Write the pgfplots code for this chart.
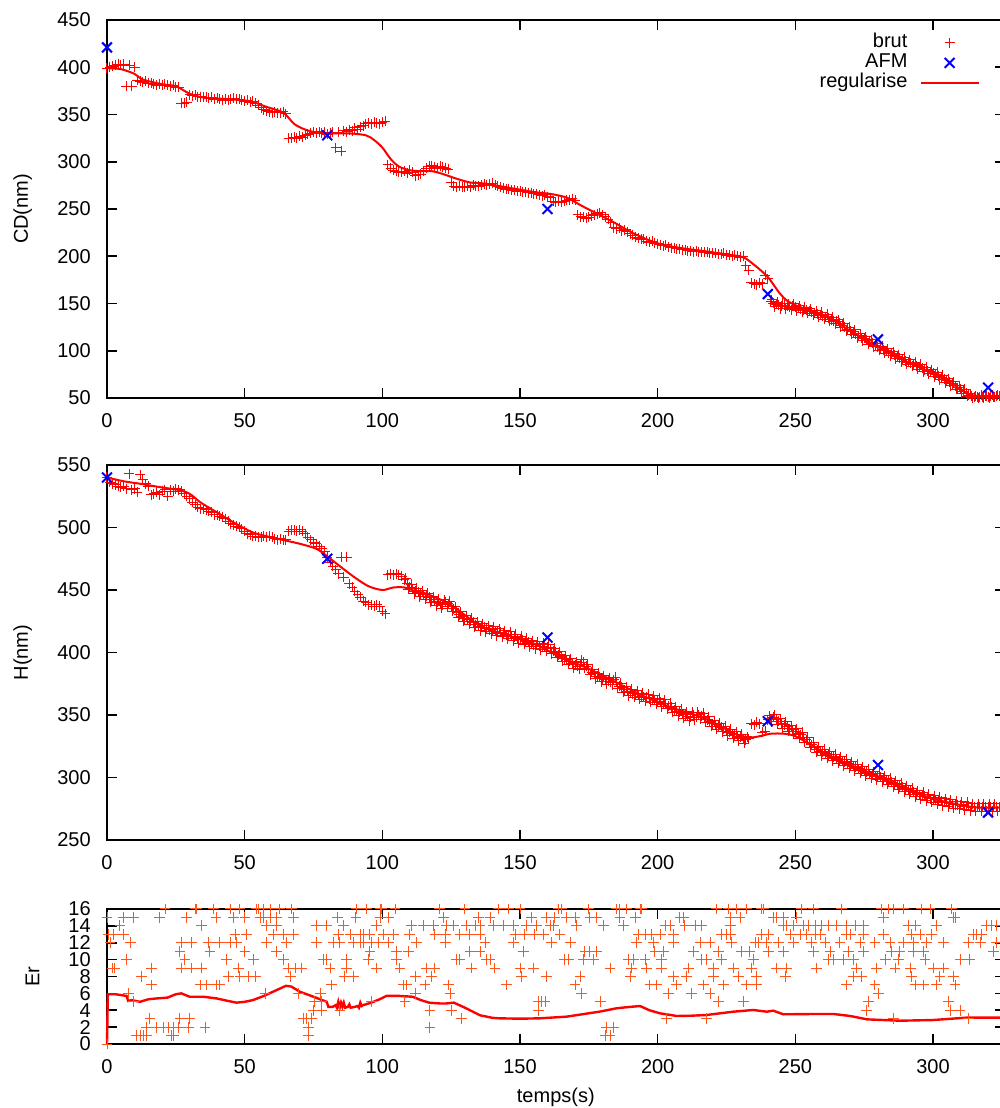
\documentclass[border=0pt]{standalone}
\usepackage{fontspec}
\setmainfont{Liberation Sans}
\usepackage{pgfplots}
\pgfplotsset{compat=1.18}
\definecolor{brutred}{RGB}{255,0,0}
\definecolor{erorange}{RGB}{255,85,25}
\definecolor{afmblue}{RGB}{0,0,255}

\pgfplotsset{
  gp/.style={
    scale only axis, width=448.8pt, xmin=0, xmax=326, clip=false,
    anchor=south west,
    xtick={0,50,...,300},
    axis line style={line width=0.8pt},
    every tick/.style={black, line width=0.8pt},
    major tick length=5pt,
    /pgf/number format/assume math mode=true,
    yticklabel style={xshift=-4.6pt},
    xticklabel style={yshift=-4.0pt},
  },
  brut/.style={only marks, mark=+, mark size=2.5pt, draw=brutred, line width=0.5pt,
    mark options={draw=brutred, solid},
    legend image code/.code={\draw[##1] plot coordinates {(14.5pt,0pt)};}},
  afm/.style={only marks, mark=x, mark size=3.5pt, draw=afmblue, line width=1pt,
    mark options={draw=afmblue, solid},
    legend image code/.code={\draw[##1] plot coordinates {(14.5pt,0pt)};}},
  reg/.style={no marks, smooth, draw=brutred, line width=1pt,
    legend image code/.code={\draw[##1] (0pt,0pt) -- (29pt,0pt);}},
}

\begin{document}
\begin{tikzpicture}[font=\fontsize{10}{12}\selectfont]
\useasboundingbox (0,0) rectangle (500pt,554pt);

% ---- CD ----
\begin{axis}[gp, at={(53.5pt,355pt)}, height=189pt,
  ymin=50, ymax=450, ytick={50,100,...,450},
  ylabel={CD(nm)}, ylabel style={at={(axis description cs:-0.094,0.5)}, anchor=center},
  legend plot pos=right, legend cell align=right,
  legend style={draw=none, fill=none, at={(rel axis cs:0.9726,0.967)}, anchor=north east,
    inner sep=0pt, column sep=5.6pt, row sep=0pt,
    nodes={inner sep=0.5pt, text height=7pt, text depth=2pt}},
]
\addplot[brut] coordinates {
(0,399) (1,400) (2,401) (3,402) (4,403) (5,402) (6,403) (7,380) (8,402) (9,380)
(10,400) (11,386) (12,385) (13,384) (14,385) (15,383) (16,383) (17,382) (18,381) (19,382)
(20,381) (21,382) (22,381) (23,380) (24,381) (25,379) (26,379) (27,362) (28,362) (29,363)
(30,371) (31,370) (32,371) (33,369) (34,369) (35,368) (36,368) (37,367) (38,368) (39,366)
(40,367) (41,366) (42,365) (43,366) (44,365) (45,366) (46,367) (47,366) (48,366) (49,365)
(50,364) (51,365) (52,363) (53,364) (54,362) (55,360) (56,357) (57,355) (58,354) (59,353)
(60,352) (61,353) (62,352) (63,352) (64,353) (65,351) (66,325) (67,325) (68,326) (69,325)
(70,327) (71,326) (72,328) (73,329) (74,330) (75,331) (76,330) (77,332) (78,330) (79,331)
(80,329) (81,330) (82,331) (83,315) (84,331) (85,311) (86,333) (87,332) (88,334) (89,333)
(90,336) (91,334) (92,337) (93,338) (94,340) (95,341) (96,340) (97,342) (98,341) (99,340)
(100,342) (101,343) (102,297) (103,293) (104,291) (105,290) (106,289) (107,289) (108,290) (109,288)
(110,291) (111,289) (112,285) (113,286) (114,287) (115,290) (116,293) (117,295) (118,296) (119,294)
(120,293) (121,295) (122,294) (123,293) (124,292) (125,278) (126,274) (127,273) (128,274) (129,273)
(130,273) (131,274) (132,273) (133,275) (134,274) (135,274) (136,275) (137,276) (138,275) (139,276)
(140,277) (141,275) (142,274) (143,273) (144,272) (145,271) (146,271) (147,270) (148,270) (149,269)
(150,269) (151,268) (152,268) (153,267) (154,267) (155,266) (156,266) (157,265) (158,264) (159,265)
(160,263) (161,262) (162,258) (163,257) (164,258) (165,257) (166,258) (167,259) (168,260) (169,261)
(170,259) (171,244) (172,242) (173,241) (174,240) (175,241) (176,243) (177,244) (178,245) (179,246)
(180,244) (181,242) (182,239) (183,236) (184,230) (185,229) (186,230) (187,227) (188,228) (189,226)
(190,224) (191,222) (192,220) (193,219) (194,218) (195,218) (196,216) (197,215) (198,216) (199,214)
(200,213) (201,212) (202,211) (203,212) (204,210) (205,209) (206,209) (207,208) (208,208) (209,207)
(210,207) (211,206) (212,206) (213,205) (214,206) (215,205) (216,205) (217,204) (218,204) (219,203)
(220,203) (221,203) (222,202) (223,202) (224,203) (225,201) (226,201) (227,200) (228,201) (229,200)
(230,199) (231,200) (232,190) (233,185) (234,172) (235,171) (236,170) (237,172) (238,171) (239,180)
(240,176) (241,152) (242,150) (243,149) (244,148) (245,147) (246,148) (247,147) (248,146) (249,147)
(250,146) (251,145) (252,144) (253,143) (254,143) (255,142) (256,141) (257,140) (258,139) (259,138)
(260,137) (261,136) (262,135) (263,133) (264,132) (265,131) (266,129) (267,127) (268,125) (269,123)
(270,121) (271,120) (272,118) (273,116) (274,114) (275,113) (276,111) (277,109) (278,108) (279,106)
(280,104) (281,103) (282,101) (283,100) (284,98) (285,97) (286,95) (287,94) (288,92) (289,91)
(290,89) (291,88) (292,87) (293,86) (294,84) (295,83) (296,82) (297,80) (298,79) (299,78)
(300,76) (301,75) (302,73) (303,72) (304,70) (305,68) (306,67) (307,65) (308,63) (309,61)
(310,59) (311,57) (312,55) (313,53) (314,52) (315,51) (316,51) (317,51) (318,51) (319,52)
(320,51) (321,52) (322,51) (323,52) (324,52)
};
\addlegendentry{brut}
\addplot[brut, forget plot] coordinates {
(241.5,154) (242.5,146.5) (243.5,151.5) (244.5,144.5) (245.5,150.5) (246.5,144.5) (247.5,149.5) (248.5,143.5) (249.5,149.5)
(250.5,142.5) (251.5,147.5) (252.5,140.5) (253.5,146) (254.5,139.5) (255.5,144.5) (256.5,137.5) (257.5,142.5) (258.5,135.5) (259.5,140.5)
(260.5,133.5) (261.5,138.5) (262.5,131) (263.5,135.5) (264.5,128.5) (265.5,133) (266.5,125) (267.5,129) (268.5,121) (269.5,125)
(270.5,117.5) (271.5,122) (272.5,114) (273.5,118) (274.5,110.5) (275.5,115) (276.5,107) (277.5,111.5) (278.5,104) (279.5,108)
(280.5,100.5) (281.5,105) (282.5,97.5) (283.5,102) (284.5,94.5) (285.5,99) (286.5,91.5) (287.5,96) (288.5,88.5) (289.5,93)
(290.5,85.5) (291.5,90.5) (292.5,83.5) (293.5,88) (294.5,80.5) (295.5,85.5) (296.5,78) (297.5,82.5) (298.5,75.5) (299.5,80)
(300.5,72.5) (301.5,77) (302.5,69.5) (303.5,74) (304.5,66) (305.5,70.5) (306.5,63) (307.5,67) (308.5,59) (309.5,63)
(310.5,55) (311.5,59) (312.5,52) (313.5,54.5) (314.5,50) (315.5,52) (316.5,50) (317.5,53) (318.5,50) (319.5,52)
(320.5,50) (321.5,53) (322.5,51) (323.5,53)
};
\addplot[afm] coordinates {(0,421) (80,328) (160,250) (240,160) (280,112) (320,61)};
\addlegendentry{AFM}
\addplot[reg] coordinates {
(0,399) (5,398) (10,393) (13,387) (20,382) (25,380) (30,372) (35,368) (45,366) (52,364)
(58,358) (64,352) (68,340) (72,334) (76,331) (80,330) (88,330) (94,328) (97,323) (100,315)
(103,303) (106,295) (110,291) (114,290) (118,290) (122,287) (127,282) (132,278) (137,277) (145,273)
(155,268) (161,266) (167,262) (172,254) (178,245) (184,236) (190,226) (196,218) (202,212) (210,208)
(218,205) (225,202) (231,199) (235,191) (240,178) (244,162) (247,153) (251,147) (256,142) (262,135)
(270,121) (280,104) (290,89) (300,76) (308,63) (313,54) (317,52) (324,52)
};
\addlegendentry{regularise}
\end{axis}

% ---- H ----
\begin{axis}[gp, at={(53.5pt,134pt)}, height=187.5pt,
  ymin=250, ymax=550, ytick={250,300,...,550},
  ylabel={H(nm)}, ylabel style={at={(axis description cs:-0.094,0.5)}, anchor=center},
]
\addplot[brut] coordinates {
(0,540) (1,536) (2,535) (3,534) (4,533) (5,532) (6,533) (7,531) (8,543) (9,530)
(10,531) (11,528) (12,542) (13,538) (14,535) (15,533) (16,526) (17,527) (18,528) (19,526)
(20,529) (21,530) (22,525) (23,530) (24,529) (25,531) (26,530) (27,529) (28,527) (29,525)
(30,523) (31,520) (32,518) (33,516) (34,515) (35,515) (36,514) (37,513) (38,512) (39,510)
(40,510) (41,509) (42,508) (43,507) (44,505) (45,503) (46,502) (47,501) (48,500) (49,499)
(50,497) (51,495) (52,494) (53,493) (54,493) (55,492) (56,492) (57,493) (58,492) (59,493)
(60,492) (61,491) (62,490) (63,491) (64,490) (65,490) (66,497) (67,498) (68,498) (69,497)
(70,498) (71,497) (72,495) (73,492) (74,490) (75,488) (76,487) (77,485) (78,483) (79,481)
(80,476) (81,472) (82,469) (83,466) (84,463) (85,476) (86,460) (87,476) (88,455) (89,452)
(90,449) (91,446) (92,444) (93,441) (94,440) (95,438) (96,438) (97,437) (98,438) (99,437)
(100,433) (101,431) (102,462) (103,463) (104,462) (105,463) (106,462) (107,461) (108,458) (109,455)
(110,452) (111,451) (112,449) (113,448) (114,447) (115,446) (116,445) (117,444) (118,442) (119,441)
(120,440) (121,439) (122,438) (123,440) (124,439) (125,437) (126,435) (127,432) (128,430) (129,429)
(130,427) (131,426) (132,425) (133,424) (134,422) (135,421) (136,420) (137,420) (138,419) (139,418)
(140,418) (141,417) (142,416) (143,416) (144,415) (145,414) (146,414) (147,413) (148,412) (149,411)
(150,410) (151,410) (152,409) (153,408) (154,407) (155,406) (156,406) (157,405) (158,405) (159,404)
(160,404) (161,403) (162,401) (163,400) (164,398) (165,397) (166,395) (167,394) (168,393) (169,391)
(170,390) (171,389) (172,390) (173,392) (174,389) (175,386) (176,384) (177,383) (178,381) (179,380)
(180,379) (181,378) (182,377) (183,376) (184,378) (185,376) (186,373) (187,372) (188,370) (189,369)
(190,368) (191,367) (192,367) (193,366) (194,365) (195,364) (196,364) (197,363) (198,363) (199,362)
(200,361) (201,360) (202,359) (203,359) (204,357) (205,356) (206,354) (207,353) (208,352) (209,351)
(210,350) (211,349) (212,348) (213,350) (214,348) (215,350) (216,349) (217,348) (218,346) (219,345)
(220,343) (221,342) (222,341) (223,340) (224,339) (225,337) (226,336) (227,335) (228,334) (229,333)
(230,332) (231,331) (232,330) (233,331) (234,343) (235,342) (236,344) (237,343) (238,336) (239,337)
(240,346) (241,347) (242,348) (243,346) (244,345) (245,343) (246,342) (247,341) (248,339) (249,338)
(250,337) (251,335) (252,334) (253,332) (254,330) (255,328) (256,326) (257,324) (258,322) (259,321)
(260,320) (261,319) (262,318) (263,317) (264,316) (265,315) (266,314) (267,313) (268,312) (269,311)
(270,310) (271,309) (272,308) (273,307) (274,306) (275,305) (276,304) (277,303) (278,302) (279,301)
(280,301) (281,300) (282,299) (283,298) (284,297) (285,296) (286,295) (287,294) (288,293) (289,292)
(290,291) (291,290) (292,289) (293,288) (294,287) (295,286) (296,285) (297,285) (298,284) (299,283)
(300,283) (301,282) (302,281) (303,281) (304,280) (305,280) (306,279) (307,279) (308,278) (309,278)
(310,278) (311,277) (312,277) (313,277) (314,276) (315,276) (316,276) (317,276) (318,276) (319,276)
(320,276) (321,276) (322,276) (323,276) (324,276)
};
\addplot[brut] coordinates {
(108.5,459.5) (109.5,450.5) (110.5,454.5) (111.5,447) (112.5,451.5) (113.5,444.5) (114.5,449.5) (115.5,442.5) (116.5,447.5) (117.5,440)
(118.5,444.5) (119.5,437.5) (120.5,442.5) (121.5,435.5) (122.5,442) (123.5,436.5) (124.5,441) (125.5,433) (126.5,436.5) (127.5,428)
(128.5,432.5) (129.5,425) (130.5,429.5) (131.5,422.5) (132.5,427.5) (133.5,420) (134.5,424.5) (135.5,417.5) (136.5,423) (137.5,416.5)
(138.5,421.5) (139.5,415) (140.5,420.5) (141.5,413.5) (142.5,419) (143.5,412.5) (144.5,417.5) (145.5,411) (146.5,416.5) (147.5,409.5)
(148.5,414.5) (149.5,407.5) (150.5,413) (151.5,406.5) (152.5,411.5) (153.5,404.5) (154.5,409.5) (155.5,403) (156.5,408.5) (157.5,402)
(158.5,407.5) (159.5,401) (160.5,406.5) (161.5,399) (162.5,403.5) (163.5,396) (164.5,400.5) (165.5,393) (166.5,397.5) (167.5,390.5)
(168.5,395) (169.5,387.5) (170.5,392.5) (171.5,386.5) (172.5,394) (173.5,387.5) (174.5,390.5) (175.5,382) (176.5,386.5) (177.5,379)
(178.5,383.5) (179.5,376.5) (180.5,381.5) (181.5,374.5) (182.5,379.5) (183.5,374) (184.5,380) (185.5,371.5) (186.5,375.5) (187.5,368)
(188.5,372.5) (189.5,365.5) (190.5,370.5) (191.5,364) (192.5,369.5) (193.5,362.5) (194.5,367.5) (195.5,361) (196.5,366.5) (197.5,360)
(198.5,365.5) (199.5,358.5) (200.5,363.5) (201.5,356.5) (202.5,362) (203.5,355) (204.5,359.5) (205.5,352) (206.5,356.5) (207.5,349.5)
(208.5,354.5) (209.5,347.5) (210.5,352.5) (211.5,345.5) (212.5,352) (213.5,346) (214.5,352) (215.5,346.5) (216.5,351.5) (217.5,344)
(218.5,348.5) (219.5,341) (220.5,345.5) (221.5,338.5) (222.5,343.5) (223.5,336.5) (224.5,341) (225.5,333.5) (226.5,338.5) (227.5,331.5)
(228.5,336.5) (229.5,329.5) (230.5,334.5) (231.5,327.5) (232.5,332.5)
(240.5,349.5) (241.5,344.5) (242.5,350) (243.5,342.5) (244.5,347) (245.5,339.5) (246.5,344.5) (247.5,337) (248.5,341.5) (249.5,334.5)
(250.5,339) (251.5,331.5) (252.5,336) (253.5,328) (254.5,332) (255.5,324) (256.5,328) (257.5,320) (258.5,324.5) (259.5,317.5)
(260.5,322.5) (261.5,315.5) (262.5,320.5) (263.5,313.5) (264.5,318.5) (265.5,311.5) (266.5,316.5) (267.5,309.5) (268.5,314.5) (269.5,307.5)
(270.5,312.5) (271.5,305.5) (272.5,310.5) (273.5,303.5) (274.5,308.5) (275.5,301.5) (276.5,306.5) (277.5,299.5) (278.5,304.5) (279.5,298)
(280.5,303.5) (281.5,296.5) (282.5,301.5) (283.5,294.5) (284.5,299.5) (285.5,292.5) (286.5,297.5) (287.5,290.5) (288.5,295.5) (289.5,288.5)
(290.5,293.5) (291.5,286.5) (292.5,291.5) (293.5,284.5) (294.5,289.5) (295.5,282.5) (296.5,288) (297.5,281.5) (298.5,286.5) (299.5,280)
(300.5,285.5) (301.5,278.5) (302.5,284) (303.5,277.5) (304.5,283) (305.5,276.5) (306.5,282) (307.5,275.5) (308.5,281) (309.5,275)
(310.5,280.5) (311.5,274) (312.5,280) (313.5,273.5) (314.5,279) (315.5,273) (316.5,279) (317.5,273) (318.5,279) (319.5,273)
(320.5,279) (321.5,273) (322.5,279) (323.5,273)
};
\addplot[afm] coordinates {(0,540) (80,475) (160,412) (240,345) (280,310) (320,272)};
\addplot[reg] coordinates {
(0,540) (6,537) (12,535) (20,532) (26,530) (30,527) (34,520) (40,512) (46,504) (53,496)
(60,492) (66,489) (70,487) (76,483) (80,477) (84,470) (90,460) (95,453) (100,450) (104,452)
(108,452) (112,449) (116,447) (125,438) (135,422) (145,414) (155,407) (165,396) (175,387) (185,376)
(195,365) (205,356) (215,349) (222,342) (228,335) (233,332) (237,333) (241,335) (246,335) (250,333)
(255,327) (262,318) (270,310) (280,301) (290,291) (300,283) (310,278) (316,276) (324,276)
};
\end{axis}

% ---- Er ----
\begin{axis}[gp, at={(53.5pt,32pt)}, height=67.5pt,
  ymin=0, ymax=16, ytick={0,2,...,16},
  ylabel={Er}, ylabel style={at={(axis description cs:-0.083,0.5)}, anchor=center},
  xlabel={temps(s)}, xlabel style={at={(axis description cs:0.5,0)}, anchor=center, yshift=-26.5pt},
]
\addplot[only marks, mark=+, mark size=2.7pt, draw=erorange, line width=0.5pt,
  mark options={draw=erorange, solid}] coordinates {
(21.1,16) (32.0,16) (32.6,16) (38.6,16) (44.7,16) (48.3,16) (54.4,16) (55.0,16) (56.8,16) (59.2,16)
(62.8,16) (67.1,16) (90.7,16) (94.3,16) (99.2,16) (99.8,16) (104.6,16) (120.9,16) (130.0,16) (142.1,16)
(0,15) (5.9,15) (9.6,15) (19.0,15) (28.9,15) (39.6,15) (45.9,15) (50.1,15) (55.6,15) (56.8,15)
(59.2,15) (61.6,15) (67.7,15) (83.7,15) (90.4,15) (99.2,15) (102.2,15) (122.2,15) (134.9,15) (139.1,15)
(4.7,14) (34.4,14) (58.0,14) (61.6,14) (76.2,14) (79.8,14) (85.8,14) (97.9,14) (110.7,14) (114.9,14)
(118.5,14) (123.4,14) (125.8,14) (130.6,14) (133.7,14) (135.5,14) (140.3,14)
(0.5,13) (2.3,13) (5.9,13) (46.5,13) (50.7,13) (60.4,13) (64.0,13) (67.7,13) (84.0,13) (88.3,13)
(91.9,13) (93.1,13) (95.5,13) (100.4,13) (104.0,13) (110.0,13) (119.1,13) (122.8,13) (128.2,13) (131.8,13) (135.5,13)
(1.1,12) (8.4,12) (27.1,12) (30.8,12) (36.8,12) (41.0,12) (44.7,12) (47.1,12) (58.0,12) (65.3,12)
(76.2,12) (82.2,12) (84.6,12) (89.5,12) (91.9,12) (93.1,12) (96.1,12) (98.6,12) (102.2,12) (112.5,12)
(122.8,12) (137.3,12)
(26.5,11) (37.4,11) (50.1,11) (61.6,11) (95.5,11) (105.2,11) (109.4,11) (131.8,11) (135.5,11)
(7.1,10) (28.3,10) (43.5,10) (53.2,10) (64.0,10) (78.6,10) (79.8,10) (87.0,10) (94.9,10) (105.2,10)
(127.0,10) (128.2,10) (137.9,10) (139.1,10)
(1.9,9) (2.9,9) (16.2,9) (27.1,9) (30.8,9) (34.4,9) (47.7,9) (65.9,9) (68.3,9) (70.7,9)
(81.0,9) (87.0,9) (97.9,9) (106.4,9) (116.1,9) (119.1,9) (132.5,9) (140.9,9)
(12.6,8) (44.1,8) (48.3,8) (51.3,8) (53.8,8) (66.5,8) (86.4,8) (89.5,8) (111.9,8) (117.9,8)
(16.2,7) (33.8,7) (36.2,7) (39.8,7) (41.0,7) (81.6,7) (107.6,7) (108.8,7) (115.5,7) (124.0,7)
(7.8,6) (57.4,6) (69.5,6) (77.4,6) (111.9,6) (124.6,6)
(9.6,5) (75.5,5) (78.0,5) (96.1,5) (108.2,5)
(75.0,4) (78.0,4) (84.6,4) (117.3,4) (125.2,4)
(15.6,3) (26.5,3) (30.1,3) (71.3,3) (72.5,3) (74.3,3) (128.8,3)
(14.4,2) (18.0,2) (20.5,2) (22.3,2) (24.1,2) (25.9,2) (29.5,2) (35.6,2) (73.1,2) (117.3,2)
(10.8,1) (12.0,1) (13.2,1) (14.4,1) (23.5,1) (24.1,1) (73.1,1)
(0,0)
(145.8,16) (150.0,16) (163.9,16) (165.1,16) (174.8,16) (185.1,16) (186.3,16) (188.7,16) (193.6,16) (194.2,16)
(221.4,16) (225.7,16) (228.7,16) (232.3,16) (237.8,16) (238.4,16) (252.3,16) (256.5,16) (266.8,16) (281.4,16)
(283.8,16) (285.6,16) (289.2,16) (295.9,16) (298.9,16) (306.8,16)
(154.2,15) (159.7,15) (162.7,15) (166.9,15) (170.0,15) (175.4,15) (177.9,15) (186.3,15) (191.8,15) (208.1,15)
(209.3,15) (226.3,15) (229.9,15) (242.0,15) (243.2,15) (245.6,15) (250.5,15) (282.0,15) (307.4,15) (308.0,15)
(143.9,14) (147.6,14) (152.4,14) (156.1,14) (160.9,14) (162.1,14) (170.6,14) (180.3,14) (187.5,14) (202.7,14)
(204.5,14) (209.9,14) (213.6,14) (216.0,14) (226.3,14) (245.6,14) (246.9,14) (249.3,14) (252.9,14) (254.7,14)
(257.2,14) (259.6,14) (262.0,14) (265.0,14) (268.7,14) (271.7,14) (274.7,14) (291.0,14) (293.5,14) (301.3,14)
(319.5,14) (321.3,14) (323.1,14)
(148.2,13) (151.8,13) (155.4,13) (158.5,13) (164.5,13) (193.0,13) (195.4,13) (197.8,13) (200.9,13) (205.7,13)
(223.3,13) (225.1,13) (226.3,13) (237.8,13) (240.2,13) (248.1,13) (251.7,13) (254.1,13) (257.2,13) (259.0,13)
(268.7,13) (269.9,13) (274.7,13) (282.0,13) (292.3,13) (295.3,13) (299.5,13) (314.6,13) (315.9,13) (317.7,13)
(147.6,12) (161.5,12) (168.2,12) (192.4,12) (198.4,12) (205.7,12) (215.4,12) (219.0,12) (226.9,12) (235.4,12)
(236.6,12) (239.6,12) (243.8,12) (249.3,12) (255.9,12) (260.8,12) (266.2,12) (273.5,12) (278.9,12) (284.4,12)
(289.2,12) (292.9,12) (297.7,12) (303.8,12) (312.8,12) (317.1,12) (323.1,12)
(151.2,11) (173.6,11) (175.4,11) (177.9,11) (199.0,11) (202.1,11) (213.0,11) (222.0,11) (230.5,11) (233.5,11)
(240.2,11) (245.6,11) (256.5,11) (262.6,11) (269.3,11) (274.7,11) (285.0,11) (288.0,11) (292.9,11) (296.5,11) (321.9,11)
(166.3,10) (167.6,10) (173.0,10) (176.6,10) (189.3,10) (191.2,10) (195.4,10) (201.5,10) (216.0,10) (217.8,10)
(223.3,10) (234.7,10) (262.0,10) (263.8,10) (267.4,10) (271.1,10) (282.6,10) (287.4,10) (297.1,10) (309.8,10) (313.4,10)
(150.0,9) (154.8,9) (182.7,9) (190.6,9) (196.0,9) (201.5,9) (211.1,9) (220.2,9) (227.5,9) (234.1,9)
(243.2,9) (246.9,9) (257.8,9) (272.3,9) (279.5,9) (286.2,9) (291.7,9) (300.1,9) (303.8,9)
(150.6,8) (159.7,8) (171.8,8) (190.0,8) (205.7,8) (210.5,8) (220.2,8) (229.3,8) (236.0,8) (246.3,8)
(271.1,8) (274.1,8) (292.3,8) (302.5,8) (307.4,8)
(145.2,7) (170.0,7) (197.2,7) (199.6,7) (206.9,7) (216.6,7) (223.9,7) (232.3,7) (236.0,7) (268.7,7)
(278.9,7) (293.5,7) (296.5,7) (301.3,7) (308.0,7)
(172.4,6) (203.9,6) (212.4,6) (219.0,6) (280.2,6)
(156.7,5) (157.9,5) (159.1,5) (179.1,5) (222.0,5) (231.1,5) (276.5,5) (305.6,5)
(156.7,4) (275.9,4) (306.2,4) (309.8,4)
(203.3,3) (217.8,3) (285.6,3) (312.8,3)
(181.5,2) (183.9,2)
(180.9,1) (182.7,1)
};
\addplot[no marks, draw=brutred, line width=1.2pt] coordinates {
(0,0) (0.3,5.9) (3,5.9) (7.1,5.7) (7.7,5.1) (9,5.2) (12,5.0) (15,5.3) (18,5.4) (22,5.5)
(25,5.9) (27,6.0) (30,5.6) (35,5.6) (39.8,5.4) (44,5.1) (47,4.9) (50,5.0) (53,5.2) (57,5.7)
(61,6.3) (65,6.9) (67,6.8) (70,6.2) (75,5.6) (79.8,5.0) (80.4,4.4) (82,4.4) (83,4.6) (83.5,4.3)
(84,5.0) (84.5,4.3) (85,4.9) (85.5,4.4) (86,4.9) (86.5,4.3) (87.5,4.4) (88,4.7) (88.5,4.3) (90,4.4)
(91,4.5) (91.5,4.3) (92,4.9) (92.5,4.5) (93,4.6) (96,4.9) (99,5.3) (101.5,5.7) (106,5.7) (111,5.6)
(114,5.2) (117,4.9) (121,4.8) (123,4.8) (126,4.9) (130,4.3) (135.5,3.4) (140,3.1) (142.7,3.04) (150,3.0)
(157,3.04) (166.9,3.24) (179,3.84) (185,4.23) (190,4.4) (193.6,4.5) (197,4.0) (200.8,3.64) (206.9,3.32) (212,3.35)
(217.8,3.44) (227.5,3.83) (234.7,4.03) (239.6,3.83) (242,3.95) (245.6,3.52) (255,3.55) (263.8,3.56) (269.9,3.32) (276,2.92)
(288,2.76) (300,2.84) (312,3.12) (326,3.12)
};
\end{axis}
\end{tikzpicture}
\end{document}
